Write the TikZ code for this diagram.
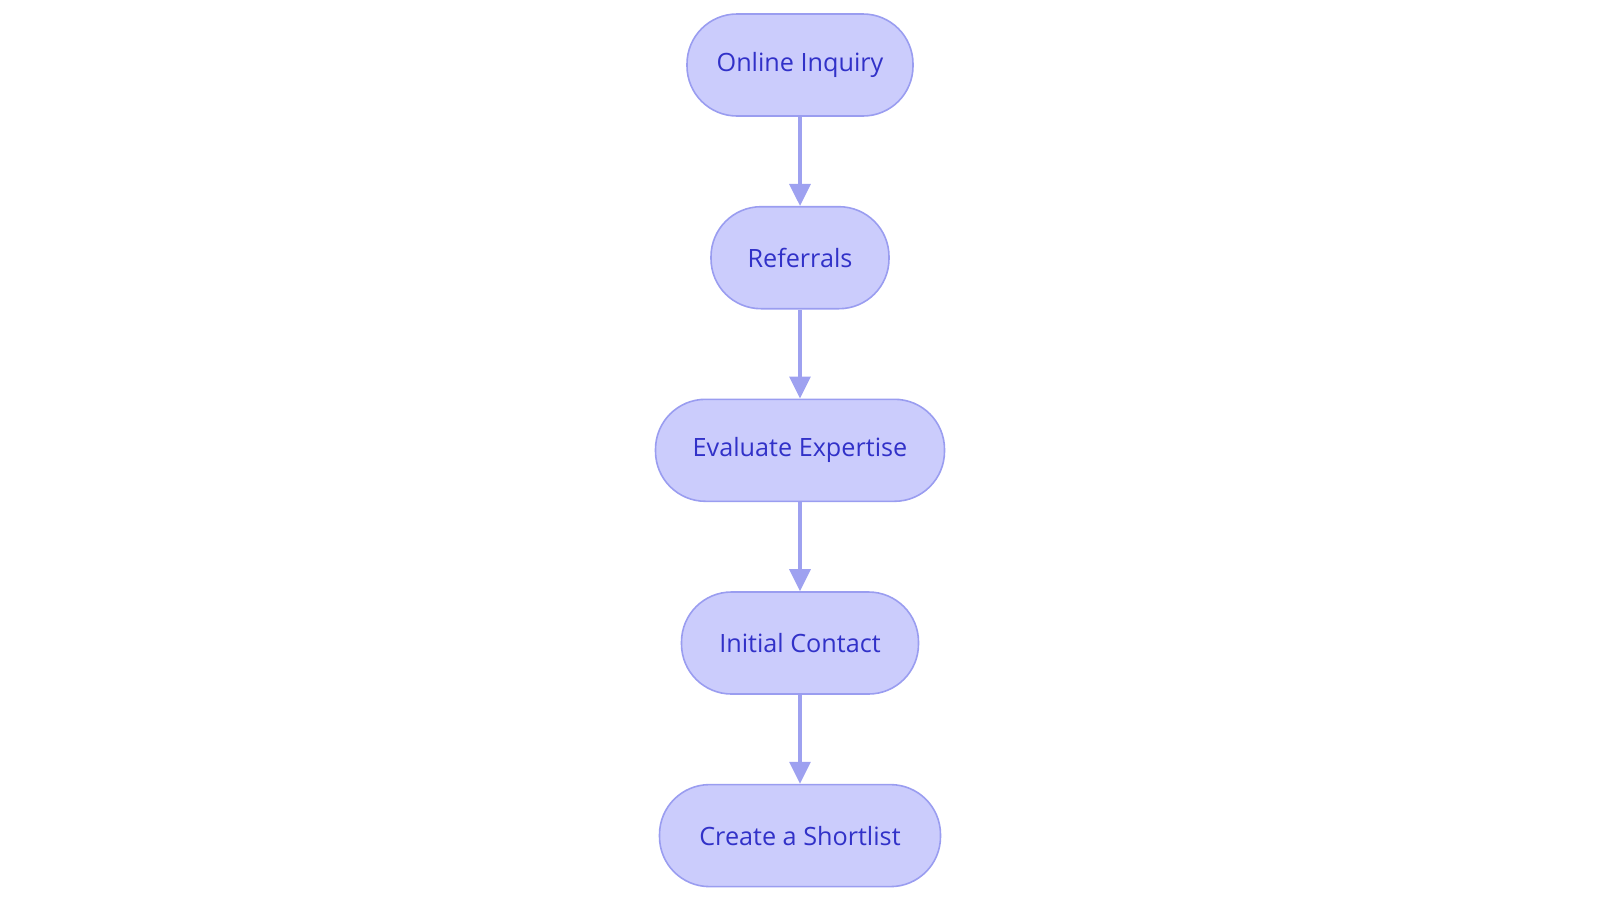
\documentclass[tikz,border=0pt]{standalone}
\usepackage{fontspec}
\setmainfont{Open Sans}
\usetikzlibrary{arrows.meta}
\definecolor{nodefill}{HTML}{CBCCFC}
\definecolor{nodeline}{HTML}{9A9DF0}
\definecolor{nodetext}{HTML}{3131C8}
\definecolor{arrowcol}{HTML}{9EA1F0}
\tikzset{
  stadium/.style={draw=nodeline, fill=nodefill, line width=1.6pt, rounded corners=50pt,
    minimum height=102pt, inner sep=0pt, text=nodetext, font=\fontsize{25.2pt}{30pt}\selectfont},
  flow/.style={draw=arrowcol, line width=3.2pt, -{Triangle[length=22pt,width=21pt]}, shorten >=0pt}
}
\begin{document}
\begin{tikzpicture}[x=1pt,y=-1pt]
\useasboundingbox (0,0) rectangle (1600,903);
\node[stadium, minimum width=226pt] (a) at (800,65) {Online Inquiry};
\node[stadium, minimum width=178pt] (b) at (800,257.7) {Referrals};
\node[stadium, minimum width=289pt] (c) at (800,450.3) {Evaluate Expertise};
\node[stadium, minimum width=237pt] (d) at (800,643) {Initial Contact};
\node[stadium, minimum width=281pt] (e) at (800,835.6) {Create a Shortlist};
\draw[flow] (a.south) -- (b.north);
\draw[flow] (b.south) -- (c.north);
\draw[flow] (c.south) -- (d.north);
\draw[flow] (d.south) -- (e.north);
\end{tikzpicture}
\end{document}
